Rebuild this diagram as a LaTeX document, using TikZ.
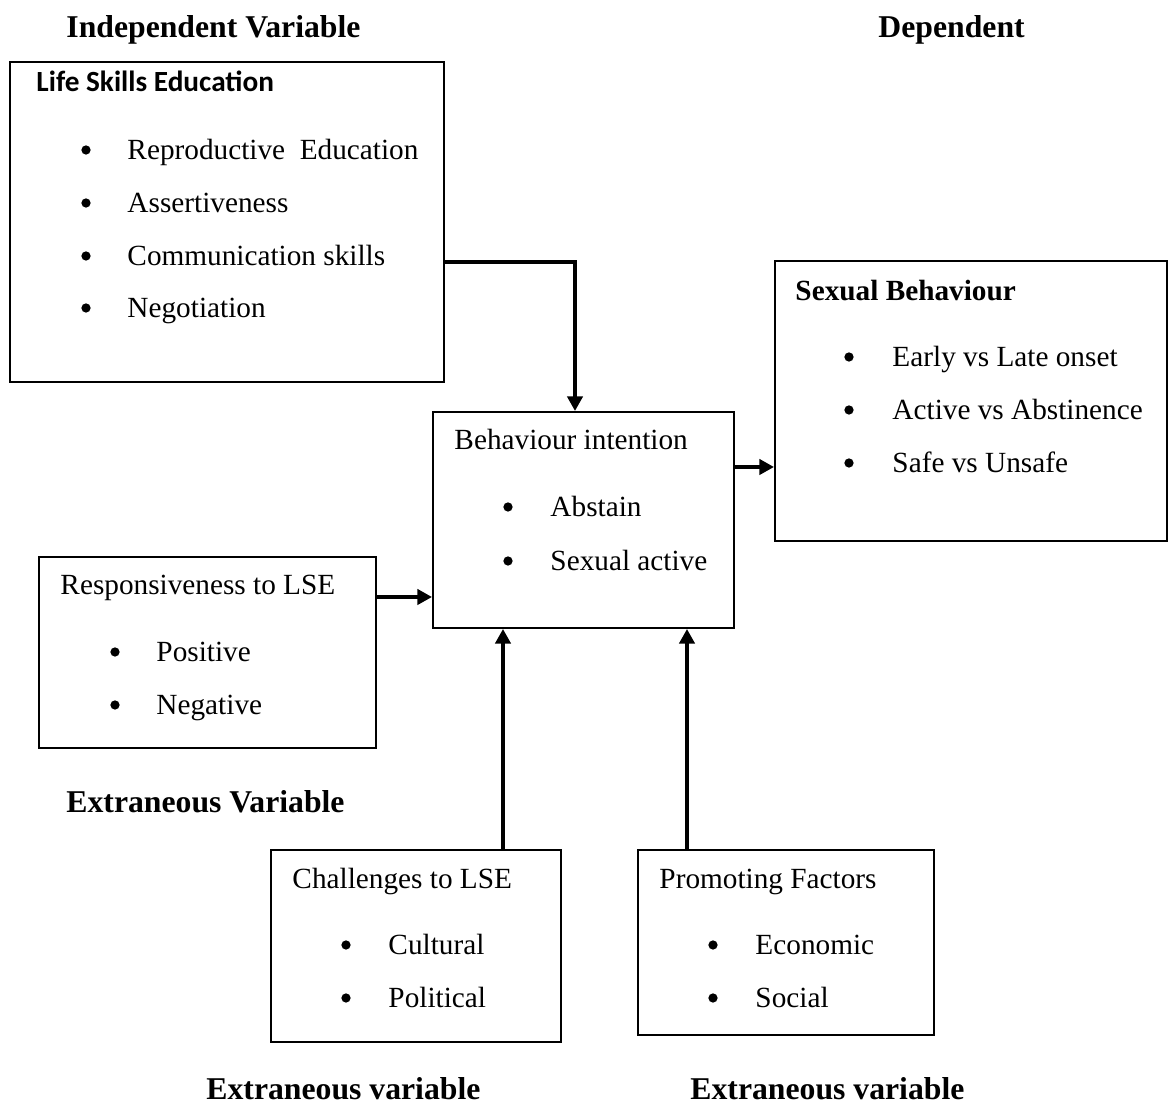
\documentclass[tikz,border=0pt]{standalone}
\usepackage{fontspec}
\setmainfont{Liberation Serif}
\newfontfamily\calib{Carlito}
\usetikzlibrary{arrows.meta,fit}
\begin{document}
\begin{tikzpicture}[x=0.41pt,y=-0.41pt,
  box/.style={draw, line width=0.8pt, inner sep=0pt},
  txt/.style={anchor=west, inner sep=0pt, yshift=-1.7pt, font=\fontsize{12}{14}\selectfont, text height=0.68em, text depth=0.2em},
  head/.style={anchor=west, inner sep=0pt, yshift=-1.7pt, font=\fontsize{13}{15}\selectfont\bfseries, text height=0.68em, text depth=0.2em},
  dot/.style={circle, fill, inner sep=0pt, minimum size=3.8pt},
  arr/.style={line width=2pt, miter limit=4, -{Triangle[length=6pt,width=6.2pt]}}]
\useasboundingbox (0,0) rectangle (1168,1117);
% headings
\node[head] (hind) at (66,28) {Independent Variable};
\node[head] (hdep) at (878,28) {Dependent};
\node[head] (hext) at (66,803) {Extraneous Variable};
\node[head] (hext1) at (206,1090) {Extraneous variable};
\node[head] (hext2) at (690,1090) {Extraneous variable};
% boxes
\node[box, fit={(10,62) (444,382)}] (lse) {};
\node[box, fit={(433,412) (734,628)}] (beh) {};
\node[box, fit={(775,261) (1167,541)}] (sb) {};
\node[box, fit={(39,557) (376,748)}] (resp) {};
\node[box, fit={(271,850) (561,1042)}] (chal) {};
\node[box, fit={(638,850) (934,1035)}] (prom) {};
% Life Skills Education
\node[txt, font=\calib\bfseries\fontsize{12}{14}\selectfont] (lset) at (36,82) {Life Skills Education};
\node[dot] (lseb1) at (86,150) {}; \node[txt] (lse1) at (127,150) {Reproductive\ \ Education};
\node[dot] (lseb2) at (86,203) {}; \node[txt] (lse2) at (127,203) {Assertiveness};
\node[dot] (lseb3) at (86,256) {}; \node[txt] (lse3) at (127,256) {Communication skills};
\node[dot] (lseb4) at (86,308) {}; \node[txt] (lse4) at (127,308) {Negotiation};
% Behaviour intention
\node[txt] (beht) at (454,440) {Behaviour intention};
\node[dot] (behb1) at (508,507) {}; \node[txt] (beh1) at (550,507) {Abstain};
\node[dot] (behb2) at (508,561) {}; \node[txt] (beh2) at (550,561) {Sexual active};
% Sexual Behaviour
\node[txt, font=\fontsize{12}{14}\selectfont\bfseries] (sbt) at (795,291) {Sexual Behaviour};
\node[dot] (sbb1) at (849,357) {}; \node[txt] (sb1) at (892,357) {Early vs Late onset};
\node[dot] (sbb2) at (849,410) {}; \node[txt] (sb2) at (892,410) {Active vs Abstinence};
\node[dot] (sbb3) at (849,463) {}; \node[txt] (sb3) at (892,463) {Safe vs Unsafe};
% Responsiveness
\node[txt] (respt) at (60,585) {Responsiveness to LSE};
\node[dot] (respb1) at (115,652) {}; \node[txt] (resp1) at (156,652) {Positive};
\node[dot] (respb2) at (115,705) {}; \node[txt] (resp2) at (156,705) {Negative};
% Challenges
\node[txt] (chalt) at (292,879) {Challenges to LSE};
\node[dot] (chalb1) at (346,945) {}; \node[txt] (chal1) at (388,945) {Cultural};
\node[dot] (chalb2) at (346,998) {}; \node[txt] (chal2) at (388,998) {Political};
% Promoting
\node[txt] (promt) at (659,879) {Promoting Factors};
\node[dot] (promb1) at (713,945) {}; \node[txt] (prom1) at (755,945) {Economic};
\node[dot] (promb2) at (713,998) {}; \node[txt] (prom2) at (755,998) {Social};
% connectors
\draw[arr] (lse.east |- 0,262) -| (beh.north -| 575,0);
\draw[arr] (beh.east |- 0,467) -- (sb.west |- 0,467);
\draw[arr] (resp.east |- 0,597) -- (beh.west |- 0,597);
\draw[arr] (chal.north -| 503,0) -- (beh.south -| 503,0);
\draw[arr] (prom.north -| 687,0) -- (beh.south -| 687,0);
\end{tikzpicture}
\end{document}
